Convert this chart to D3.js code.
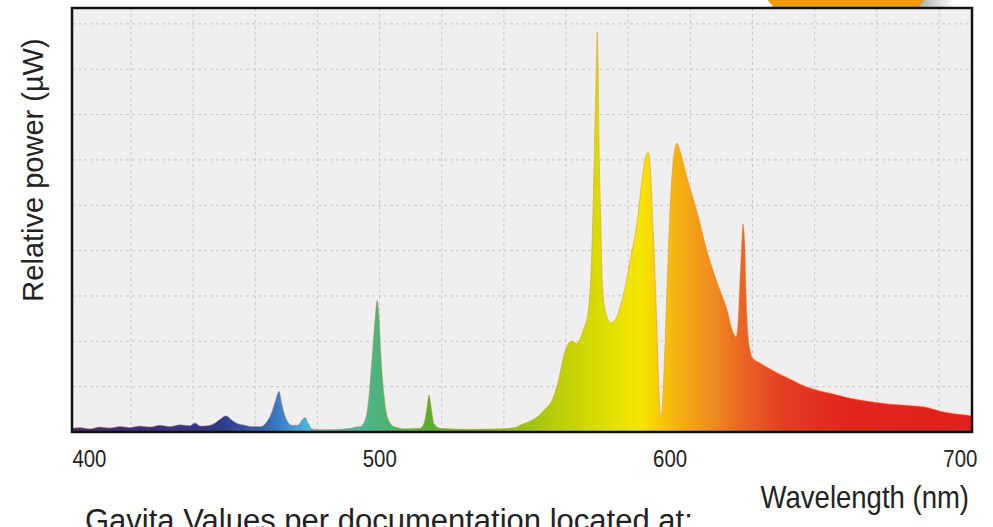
<!DOCTYPE html>
<html>
<head>
<meta charset="utf-8">
<script src="https://cdn.jsdelivr.net/npm/d3@7"></script>
<style>
  body { margin: 0; background: #fff; }
  svg { display: block; }
  .tick-label { font-family: "Liberation Sans", Arial, sans-serif; fill: #222; }
</style>
</head>
<body>
<svg id="chart"></svg>
<script>
// spectrum: wavelength (nm) and relative power (grid units)
const wavelengths = [
  394.0, 396.8, 400.2, 403.6, 407.1, 410.5, 414.0, 417.4, 420.9, 424.3,
  427.8, 431.2, 434.6, 436.4, 438.1, 441.5, 443.3, 445.0, 447.0, 449.1,
  451.2, 453.6, 456.0, 458.8, 460.8, 462.6, 463.9, 465.3, 466.3, 467.7,
  469.8, 471.8, 473.2, 474.3, 475.3, 476.7, 479.4, 486.3, 489.8, 491.5,
  493.2, 494.9, 496.3, 497.3, 498.4, 499.1, 499.7, 500.4, 501.5, 502.8,
  504.9, 508.7, 513.9, 515.3, 516.3, 517.0, 517.7, 518.7, 520.8, 531.1,
  541.4, 546.6, 548.3, 551.1, 554.2, 556.9, 559.7, 561.4, 563.1, 564.5,
  566.2, 568.0, 569.0, 570.4, 571.7, 572.8, 573.5, 574.2, 574.7, 574.9,
  575.2, 575.5, 576.1, 576.6, 577.6, 579.7, 581.7, 584.5, 586.9, 588.6,
  590.4, 591.7, 592.4, 593.1, 594.1, 594.8, 595.5, 596.2, 596.9, 597.6,
  598.3, 599.0, 599.7, 600.7, 601.7, 602.4, 603.4, 605.9, 609.3, 612.7,
  616.2, 619.6, 621.7, 622.7, 623.4, 624.1, 624.8, 625.1, 625.7, 626.2,
  626.9, 627.6, 628.2, 631.0, 636.2, 641.3, 645.0, 649.3, 654.0, 658.6,
  664.0, 671.3, 675.0, 679.2, 683.0, 687.8, 693.0, 698.2, 701.0, 704.0
];
const power = [
  0.08, 0.10, 0.07, 0.11, 0.09, 0.12, 0.10, 0.13, 0.11, 0.15,
  0.12, 0.16, 0.14, 0.20, 0.13, 0.15, 0.20, 0.28, 0.36, 0.26,
  0.18, 0.15, 0.12, 0.12, 0.20, 0.40, 0.65, 0.90, 0.62, 0.30,
  0.15, 0.15, 0.26, 0.32, 0.20, 0.07, 0.05, 0.06, 0.08, 0.11,
  0.12, 0.25, 0.80, 1.60, 2.50, 2.90, 2.60, 1.70, 0.80, 0.30,
  0.12, 0.07, 0.08, 0.20, 0.55, 0.82, 0.55, 0.18, 0.08, 0.06,
  0.07, 0.10, 0.15, 0.22, 0.33, 0.50, 0.75, 1.10, 1.60, 1.90,
  2.00, 1.95, 2.05, 2.30, 2.60, 3.60, 5.00, 7.00, 8.30, 8.82,
  8.20, 6.50, 4.80, 3.40, 2.70, 2.40, 2.55, 3.20, 4.00, 4.60,
  5.60, 6.10, 6.17, 5.90, 4.60, 3.50, 2.20, 0.90, 0.32, 0.90,
  2.00, 3.30, 4.50, 5.70, 6.25, 6.37, 6.20, 5.60, 4.85, 4.00,
  3.30, 2.70, 2.20, 2.10, 2.40, 3.40, 4.30, 4.59, 4.20, 3.00,
  2.10, 1.80, 1.65, 1.52, 1.33, 1.17, 1.05, 0.95, 0.87, 0.80,
  0.72, 0.65, 0.62, 0.60, 0.58, 0.55, 0.46, 0.40, 0.38, 0.36
];
const xTicks = [400, 500, 600, 700];
const yGrid = [1, 2, 3, 4, 5, 6, 7, 8, 9];

// fill colour along the spectrum
const colorStops = [
  [394, "#4a2a6e"], [420, "#3a2f7a"], [445, "#2e3a8c"], [460, "#3262b0"],
  [467, "#3f86cc"], [475, "#45b4dc"], [490, "#4ab6a0"], [500, "#4db37a"],
  [517, "#5aae2e"], [545, "#8cbc1c"], [560, "#b6ce0c"], [575, "#d8dc00"],
  [590, "#f7e600"], [597, "#f8c808"], [603, "#f5b010"], [615, "#ef8a1e"],
  [625, "#e96424"], [640, "#e43c22"], [660, "#e2261e"], [704, "#e0201c"]
];

const W = 993, H = 527;
const plot = { left: 72, right: 972, top: 8, bottom: 432 };

const svg = d3.select("#chart").attr("width", W).attr("height", H);

const x = d3.scaleLinear().domain([394, 704]).range([plot.left, plot.right]);
const y = d3.scaleLinear().domain([0, 9.35]).range([plot.bottom, plot.top]);

// orange badge peeking in at the top, with its grey shadow
const defs = svg.append("defs");
const shade = defs.append("linearGradient").attr("id", "shade");
shade.append("stop").attr("offset", 0).attr("stop-color", "#a8a8a8");
shade.append("stop").attr("offset", 1).attr("stop-color", "#ffffff");
svg.append("rect")
  .attr("x", 915).attr("y", 0).attr("width", 40).attr("height", 8)
  .attr("fill", "url(#shade)");
svg.append("circle")
  .attr("cx", 846).attr("cy", -62).attr("r", 100)
  .attr("fill", "#f59a0a");

// plot background
svg.append("rect")
  .attr("x", plot.left).attr("y", plot.top)
  .attr("width", plot.right - plot.left).attr("height", plot.bottom - plot.top)
  .attr("fill", "#efeff2");

// grid
const gridStart = 414.3, gridStep = 21.41;
const xGrid = d3.range(gridStart, 704, gridStep);
svg.append("g").selectAll("line").data(xGrid).join("line")
  .attr("x1", d => x(d)).attr("x2", d => x(d))
  .attr("y1", plot.top).attr("y2", plot.bottom)
  .attr("stroke", "#c8c8cc").attr("stroke-width", 1)
  .attr("stroke-dasharray", "3,3");
svg.append("g").selectAll("line").data(yGrid).join("line")
  .attr("x1", plot.left).attr("x2", plot.right)
  .attr("y1", d => y(d)).attr("y2", d => y(d))
  .attr("stroke", "#c8c8cc").attr("stroke-width", 1)
  .attr("stroke-dasharray", "3,3");

// gradient
const grad = defs.append("linearGradient")
  .attr("id", "spec").attr("gradientUnits", "userSpaceOnUse")
  .attr("x1", plot.left).attr("x2", plot.right).attr("y1", 0).attr("y2", 0);
grad.selectAll("stop").data(colorStops).join("stop")
  .attr("offset", d => (x(d[0]) - plot.left) / (plot.right - plot.left))
  .attr("stop-color", d => d[1]);

const data = wavelengths.map((w, i) => ({ w: w, p: power[i] }));

const area = d3.area()
  .x(d => x(d.w))
  .y0(plot.bottom)
  .y1(d => y(d.p))
  .curve(d3.curveMonotoneX);

svg.append("path")
  .datum(data)
  .attr("d", area)
  .attr("fill", "url(#spec)")
  .attr("stroke", "#dc8c3c")
  .attr("stroke-opacity", 0.6)
  .attr("stroke-width", 0.8);

// frame
svg.append("rect")
  .attr("x", plot.left).attr("y", plot.top)
  .attr("width", plot.right - plot.left).attr("height", plot.bottom - plot.top)
  .attr("fill", "none").attr("stroke", "#111").attr("stroke-width", 2.5);

// x tick labels, squeezed to look condensed
svg.append("g").selectAll("text").data(xTicks).join("text")
  .attr("class", "tick-label")
  .attr("transform", d => `translate(${x(d)}, 467) scale(0.85, 1)`)
  .attr("text-anchor", "middle")
  .attr("font-size", 24)
  .text(d => d);

svg.append("text")
  .attr("class", "tick-label")
  .attr("transform", "translate(969, 508) scale(0.86, 1)")
  .attr("text-anchor", "end")
  .attr("font-size", 32)
  .text("Wavelength (nm)");

svg.append("text")
  .attr("transform", "translate(43, 170) rotate(-90)")
  .attr("text-anchor", "middle")
  .attr("font-family", "Liberation Sans, Arial, sans-serif")
  .attr("font-size", 29)
  .attr("fill", "#222")
  .text("Relative power (µW)");

svg.append("text")
  .attr("x", 85).attr("y", 531)
  .attr("font-family", "Liberation Sans, Arial, sans-serif")
  .attr("font-size", 31)
  .attr("fill", "#222")
  .text("Gavita Values per documentation located at:");
</script>
</body>
</html>
